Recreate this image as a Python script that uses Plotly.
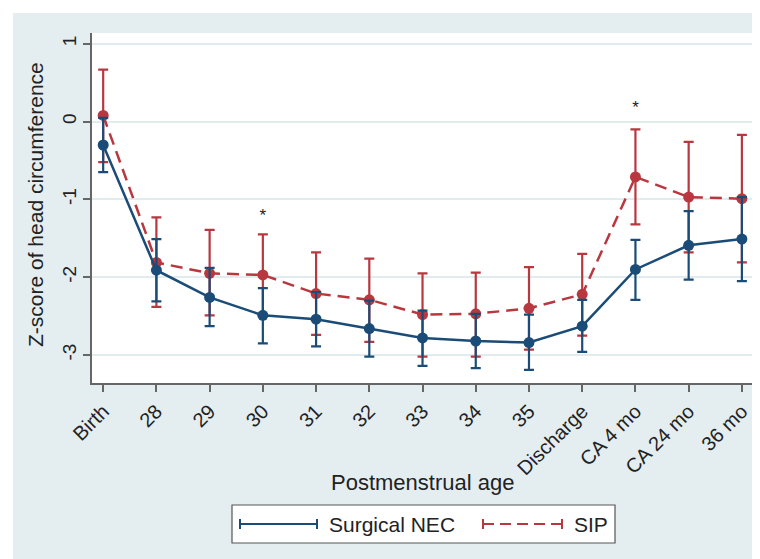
import plotly.graph_objects as go

categories = ["Birth", "28", "29", "30", "31", "32", "33", "34", "35",
              "Discharge", "CA 4 mo", "CA 24 mo", "36 mo"]
nec_mean = [-0.30, -1.91, -2.26, -2.49, -2.54, -2.66, -2.78, -2.82, -2.84, -2.63, -1.90, -1.59, -1.51]
nec_hi = [0.05, -1.51, -1.88, -2.14, -2.19, -2.30, -2.43, -2.47, -2.48, -2.29, -1.52, -1.15, -0.97]
nec_lo = [-0.65, -2.31, -2.63, -2.85, -2.89, -3.02, -3.14, -3.17, -3.19, -2.96, -2.29, -2.03, -2.05]
sip_mean = [0.08, -1.81, -1.95, -1.97, -2.21, -2.29, -2.48, -2.47, -2.40, -2.22, -0.71, -0.97, -0.99]
sip_hi = [0.67, -1.23, -1.39, -1.45, -1.68, -1.76, -1.95, -1.94, -1.87, -1.70, -0.10, -0.26, -0.17]
sip_lo = [-0.52, -2.38, -2.49, -2.50, -2.74, -2.83, -3.02, -3.02, -2.93, -2.75, -1.32, -1.68, -1.81]
star_idx = [3, 10]
star_y = [-1.22, 0.17]
y_ticks = [-3, -2, -1, 0, 1]
y_tick_labels = ["-3", "-2", "-1", "0", "1"]

BLUE = "#1b4c78"
RED = "#b8383f"
BG = "#e4eef1"
FONT = "Liberation Sans, Arial, sans-serif"
TXT = "#222"

OFF = 8  # page body margin
W, H = 760 - OFF, 559 - OFF
# plot area in screen pixels
SX0, SX1, SY0, SY1 = 92, 752, 33, 383
L, R, T, B = SX0 - OFF, W - (SX1 - OFF), SY0 - OFF, H - (SY1 - OFF)
PW, PH = SX1 - SX0, SY1 - SY0


def px(x):
    return (x - SX0) / PW


def py(y):
    return (SY1 - y) / PH


xs = list(range(len(categories)))

fig = go.Figure()


def add_series(mean, hi, lo, color, dash, name):
    fig.add_trace(go.Scatter(
        x=xs, y=mean, mode="lines+markers", name=name,
        line=dict(color=color, width=2.5, dash=dash),
        marker=dict(color=color, size=11),
        error_y=dict(type="data", symmetric=False,
                     array=[h - m for h, m in zip(hi, mean)],
                     arrayminus=[m - l for m, l in zip(mean, lo)],
                     color=color, thickness=2.2, width=5),
        showlegend=False,
    ))


add_series(sip_mean, sip_hi, sip_lo, RED, "12px,7px", "SIP")
add_series(nec_mean, nec_hi, nec_lo, BLUE, "solid", "Surgical NEC")

fig.add_trace(go.Scatter(
    x=star_idx, y=star_y, mode="text", text=["*"] * len(star_idx),
    textfont=dict(size=17, color=TXT, family=FONT), showlegend=False,
))

shapes = [
    dict(type="rect", xref="paper", yref="paper", layer="below",
         x0=px(13), x1=px(770), y0=py(570), y1=py(13),
         fillcolor=BG, line=dict(width=0)),
    dict(type="rect", xref="paper", yref="paper", layer="below",
         x0=0, x1=1, y0=0, y1=1, fillcolor="white", line=dict(width=0)),
    # legend box
    dict(type="rect", xref="paper", yref="paper",
         x0=px(232), x1=px(615), y0=py(543), y1=py(505),
         fillcolor="white", line=dict(color="#555", width=1.2)),
]
ly = py(524)
cap = 5 / PH
for (x0, x1, color, dash) in [(240, 317, BLUE, "solid"), (483, 562, RED, "11px,6px")]:
    shapes.append(dict(type="line", xref="paper", yref="paper",
                       x0=px(x0), x1=px(x1), y0=ly, y1=ly,
                       line=dict(color=color, width=2, dash=dash)))
    for xc in (x0, x1):
        shapes.append(dict(type="line", xref="paper", yref="paper",
                           x0=px(xc), x1=px(xc), y0=ly - cap, y1=ly + cap,
                           line=dict(color=color, width=2)))

annotations = [
    dict(text="Surgical NEC", xref="paper", yref="paper", x=px(327), y=ly,
         xanchor="left", yanchor="middle", showarrow=False,
         font=dict(size=21, color=TXT, family=FONT)),
    dict(text="SIP", xref="paper", yref="paper", x=px(572), y=ly,
         xanchor="left", yanchor="middle", showarrow=False,
         font=dict(size=21, color=TXT, family=FONT)),
    dict(text="Postmenstrual age", xref="paper", yref="paper", x=px(422), y=py(482),
         xanchor="center", yanchor="middle", showarrow=False,
         font=dict(size=22, color=TXT, family=FONT)),
    dict(text="Z-score of head circumference", xref="paper", yref="paper",
         x=px(35), y=py(205), textangle=-90,
         xanchor="center", yanchor="middle", showarrow=False,
         font=dict(size=21, color=TXT, family=FONT)),
]

fig.update_layout(
    width=W, height=H,
    margin=dict(l=L, r=R, t=T, b=B, autoexpand=False),
    paper_bgcolor="white", plot_bgcolor="white",
    font=dict(family=FONT, color=TXT),
    shapes=shapes, annotations=annotations,
    showlegend=False,
)
fig.update_xaxes(
    range=[-0.21, 12.19], tickvals=xs, ticktext=categories, tickangle=-45,
    showgrid=False, zeroline=False, showline=True, linecolor="#666", linewidth=1.5,
    ticks="outside", ticklen=7, tickcolor="#666", tickwidth=1.5,
    tickfont=dict(size=20, family=FONT, color=TXT), automargin=False,
)
fig.update_yaxes(
    range=[-3.36, 1.14], tickvals=y_ticks, ticktext=y_tick_labels, tickangle=-90,
    showgrid=True, gridcolor="#e2ecef", gridwidth=1.5, zeroline=False,
    showline=True, linecolor="#666", linewidth=1.5,
    ticks="outside", ticklen=7, tickcolor="#666", tickwidth=1.5,
    tickfont=dict(size=19, family=FONT, color=TXT), automargin=False,
)

fig.write_html("out.html")
